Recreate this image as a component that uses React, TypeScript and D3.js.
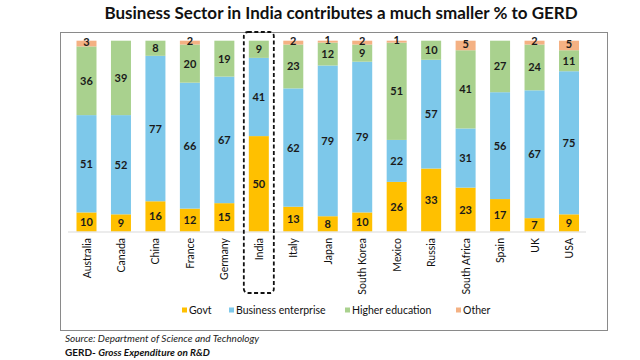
import React, { useRef, useEffect } from "react";
import * as d3 from "d3";

const countries = [
  "Australia", "Canada", "China", "France", "Germany", "India", "Italy", "Japan",
  "South Korea", "Mexico", "Russia", "South Africa", "Spain", "UK", "USA",
];
const govt = [10, 9, 16, 12, 15, 50, 13, 8, 10, 26, 33, 23, 17, 7, 9];
const business = [51, 52, 77, 66, 67, 41, 62, 79, 79, 22, 57, 31, 56, 67, 75];
const higherEd = [36, 39, 8, 20, 19, 9, 23, 12, 9, 51, 10, 41, 27, 24, 11];
const other = [3, 0, 0, 2, 0, 0, 2, 1, 2, 1, 0, 5, 0, 2, 5];

const seriesNames = ["Govt", "Business enterprise", "Higher education", "Other"];
const seriesColors = ["#FFC000", "#7DC8EA", "#A9D18E", "#F4B183"];

const FONT = "Lato, 'Open Sans', sans-serif";

const App = () => {
  const svgRef = useRef<SVGSVGElement>(null);

  useEffect(() => {
    const svg = d3.select(svgRef.current);
    svg.selectAll("*").remove();

    const rows = countries.map((c, i) => ({
      country: c,
      Govt: govt[i],
      "Business enterprise": business[i],
      "Higher education": higherEd[i],
      Other: other[i],
    }));

    // 100% stacked (some rows add up to 101)
    const stack = d3.stack<any>().keys(seriesNames).offset(d3.stackOffsetExpand);
    const layers = stack(rows);

    const x = d3.scalePoint().domain(countries).range([86.5, 569]);
    const y = d3.scaleLinear().domain([0, 1]).range([231.5, 40.7]);
    const barW = 20;

    // title
    svg
      .append("text")
      .attr("x", 341)
      .attr("y", 19)
      .attr("text-anchor", "middle")
      .style("font-family", FONT)
      .style("font-weight", "bold")
      .style("font-size", "17px")
      .attr("fill", "#111")
      .text("Business Sector in India contributes a much smaller % to GERD");

    // frame
    svg
      .append("rect")
      .attr("x", 60.5)
      .attr("y", 32.5)
      .attr("width", 547)
      .attr("height", 298)
      .attr("fill", "none")
      .attr("stroke", "#8a8a8a")
      .attr("stroke-width", 1);

    // bars
    const g = svg.append("g");
    layers.forEach((layer, li) => {
      g.selectAll(null)
        .data(layer)
        .join("rect")
        .attr("x", (d: any) => (x(d.data.country) as number) - barW / 2)
        .attr("y", (d) => y(d[1]))
        .attr("width", barW)
        .attr("height", (d) => y(d[0]) - y(d[1]))
        .attr("fill", seriesColors[li]);
    });

    // value labels
    layers.forEach((layer, li) => {
      const key = seriesNames[li];
      const lift = key === "Other" ? 1.5 : 0;
      g.selectAll(null)
        .data(layer.filter((d: any) => d.data[key] > 0))
        .join("text")
        .attr("x", (d: any) => x(d.data.country) as number)
        .attr("y", (d) => y((d[0] + d[1]) / 2) + 4 - lift)
        .attr("text-anchor", "middle")
        .style("font-family", FONT)
        .style("font-weight", "bold")
        .style("font-size", "11px")
        .attr("fill", "#1a1a1a")
        .text((d: any) => d.data[key]);
    });

    // baseline
    svg
      .append("line")
      .attr("x1", 68)
      .attr("x2", 586)
      .attr("y1", 232)
      .attr("y2", 232)
      .attr("stroke", "#d9d9d9")
      .attr("stroke-width", 1);

    // category labels
    svg
      .append("g")
      .selectAll("text")
      .data(countries)
      .join("text")
      .attr("transform", (d) => `translate(${(x(d) as number) + 4},238) rotate(-90)`)
      .attr("text-anchor", "end")
      .style("font-family", FONT)
      .style("font-size", "10.5px")
      .attr("fill", "#111")
      .text((d) => d);

    // India highlight
    const ix = x("India") as number;
    svg
      .append("rect")
      .attr("x", ix - 15)
      .attr("y", 32)
      .attr("width", 30)
      .attr("height", 261)
      .attr("rx", 4)
      .attr("fill", "none")
      .attr("stroke", "#111")
      .attr("stroke-width", 1.8)
      .attr("stroke-dasharray", "4,2.5");

    // legend
    const legendX = [182, 229, 345, 456];
    const lg = svg.append("g");
    seriesNames.forEach((name, i) => {
      lg.append("rect")
        .attr("x", legendX[i])
        .attr("y", 307.5)
        .attr("width", 5)
        .attr("height", 5)
        .attr("fill", seriesColors[i]);
      lg.append("text")
        .attr("x", legendX[i] + 7)
        .attr("y", 314)
        .style("font-family", FONT)
        .style("font-size", "10.5px")
        .attr("fill", "#111")
        .text(name);
    });

    // source notes
    svg
      .append("text")
      .attr("x", 65)
      .attr("y", 342)
      .style("font-family", FONT)
      .style("font-style", "italic")
      .style("font-size", "10px")
      .attr("fill", "#222")
      .text("Source: Department of Science and Technology");

    const note = svg
      .append("text")
      .attr("x", 65)
      .attr("y", 356)
      .style("font-family", FONT)
      .style("font-size", "10px")
      .style("font-weight", "bold")
      .attr("fill", "#111");
    note.append("tspan").text("GERD- ");
    note.append("tspan").style("font-style", "italic").text("Gross Expenditure on R&D");
  }, []);

  return (
    <div style={{ position: "absolute", left: 0, top: 0, background: "#fff" }}>
      <svg ref={svgRef} width={640} height={360} style={{ display: "block" }} />
    </div>
  );
};

export default App;
